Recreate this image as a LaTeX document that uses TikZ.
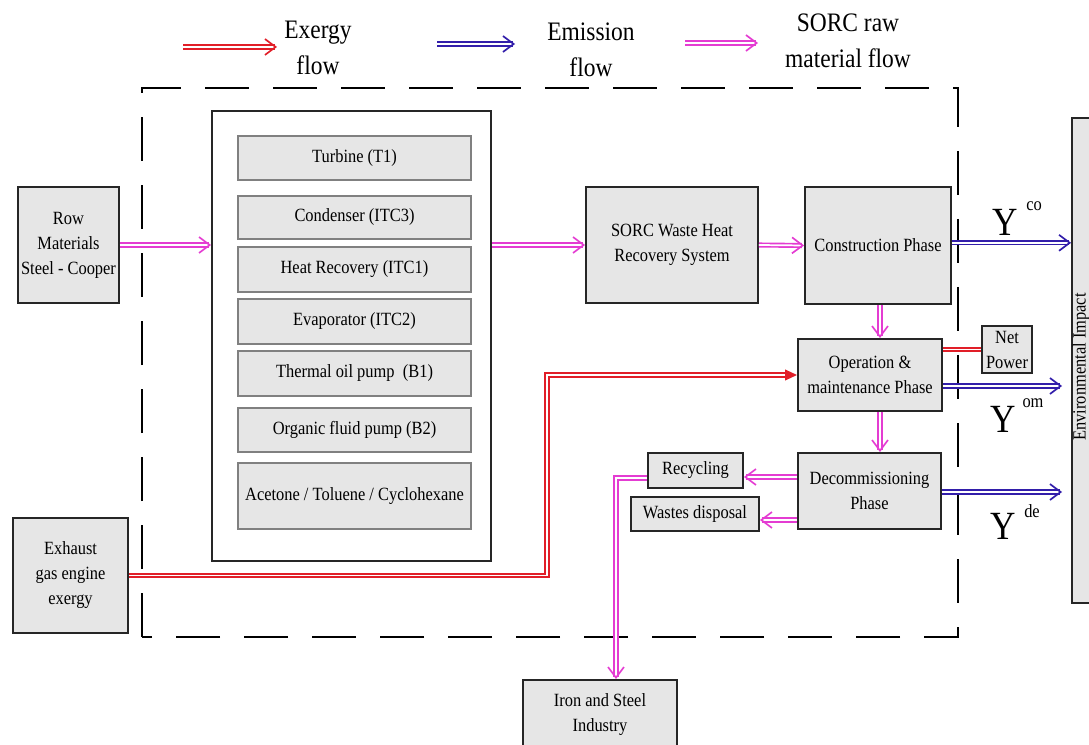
\documentclass[tikz,border=0pt]{standalone}
\usepackage{fontspec}
\setmainfont{Liberation Serif}[FakeStretch=0.88]
\usetikzlibrary{arrows.meta}
\definecolor{exred}{RGB}{225,30,40}
\definecolor{emblue}{RGB}{50,30,170}
\definecolor{rawmag}{RGB}{228,60,210}
\definecolor{boxfill}{RGB}{230,230,230}
\tikzset{
  mainbox/.style={draw=black!85, line width=1.4pt, fill=boxfill, align=center, inner sep=1pt,
                  font=\fontsize{14}{18.75}\selectfont},
  compbox/.style={draw=black!50, line width=0.8pt, fill=boxfill, align=center,
                  minimum width=174.75pt, font=\fontsize{14}{18.75}\selectfont},
  flowline/.style={draw=#1, double=white, double distance=1.3pt, line width=1.25pt},
  flowarrow/.style={flowline=#1, -{Straight Barb[length=8pt,width=12pt,line width=1.25pt]}},
  legtext/.style={align=center, font=\fontsize{20}{27}\selectfont},
  ybig/.style={font=\fontsize{30}{32}\selectfont, inner sep=0pt},
  ysup/.style={font=\fontsize{14}{16}\selectfont, inner sep=0pt},
}
\begin{document}
\begin{tikzpicture}[x=0.75pt,y=-0.75pt]
\useasboundingbox (0,0) rectangle (1089,745);

% dashed boundary
\draw[line width=2.2pt, dash pattern=on 33pt off 18pt] (142,637) -- (142,88) -- (958,88) -- (958,637) -- cycle;

% legend
\coordinate (l1a) at (183,47); \coordinate (l1b) at (277,47);
\coordinate (l2a) at (437,44); \coordinate (l2b) at (515,44);
\coordinate (l3a) at (685,43); \coordinate (l3b) at (758,43);
\draw[flowarrow=exred] (l1a) -- (l1b);
\draw[flowarrow=emblue] (l2a) -- (l2b);
\draw[flowarrow=rawmag] (l3a) -- (l3b);
\node[legtext] (lt1) at (318,48) {Exergy\\flow};
\node[legtext] (lt2) at (591,50) {Emission\\flow};
\node[legtext] (lt3) at (848,41) {SORC raw\\material flow};

% left inputs
\node[mainbox, minimum width=75.75pt, minimum height=87pt] (row) at (68.5,245) {Row\\Materials\\Steel - Cooper};
\node[mainbox, minimum width=86.25pt, minimum height=86.25pt] (exh) at (70.5,575.5) {Exhaust\\gas engine\\exergy};

% inner system box
\node[draw=black!85, line width=1.4pt, fill=white, minimum width=209.25pt, minimum height=337.5pt] (inner) at (351.5,336) {};
\node[compbox, minimum height=33pt] (turb) at (354.5,158) {Turbine (T1)};
\node[compbox, minimum height=32.25pt] (cond) at (354.5,217.5) {Condenser (ITC3)};
\node[compbox, minimum height=33.75pt] (heat) at (354.5,269.5) {Heat Recovery (ITC1)};
\node[compbox, minimum height=33.75pt] (evap) at (354.5,321.5) {Evaporator (ITC2)};
\node[compbox, minimum height=33.75pt] (therm) at (354.5,373.5) {Thermal oil pump~~(B1)};
\node[compbox, minimum height=33pt] (org) at (354.5,430) {Organic fluid pump (B2)};
\node[compbox, minimum height=49.5pt] (acet) at (354.5,496) {Acetone / Toluene / Cyclohexane};

% right side boxes
\node[mainbox, minimum width=129pt, minimum height=87pt] (sorc) at (672,245) {SORC Waste Heat\\Recovery System};
\node[mainbox, minimum width=109.5pt, minimum height=87.75pt] (cons) at (878,245.5) {Construction Phase};
\node[mainbox, minimum width=108pt, minimum height=54pt] (op) at (870,375) {Operation \&\\maintenance Phase};
\node[mainbox, minimum width=37.5pt, minimum height=35.25pt, inner sep=0pt] (net) at (1007,349.5) {Net\\Power};
\node[mainbox, minimum width=107.25pt, minimum height=57pt] (dec) at (869.5,491) {Decommissioning\\Phase};
\node[mainbox, minimum width=71.25pt, minimum height=26.25pt] (rec) at (695.5,470.5) {Recycling};
\node[mainbox, minimum width=96pt, minimum height=25.5pt] (waste) at (695,514) {Wastes disposal};
\node[mainbox, minimum width=115.5pt, minimum height=52.5pt] (iron) at (600,715) {Iron and Steel\\Industry};
\node[mainbox, minimum width=21pt, minimum height=363.75pt] (env) at (1086,360.5) {};
\node[rotate=90, font=\fontsize{14}{16}\selectfont] (envt) at (1081,367) {Environmental Impact};

% Y labels
\node[ybig] (yco) at (1005,222) {Y};
\node[ysup] (ycos) at (1034,206) {co};
\node[ybig] (yom) at (1003,419) {Y};
\node[ysup] (yoms) at (1033,403) {om};
\node[ybig] (yde) at (1003,526) {Y};
\node[ysup] (ydes) at (1032,511) {de};

% raw material flows
\draw[flowarrow=rawmag] (row.east) -- (row.east -| inner.west);
\draw[flowarrow=rawmag] (sorc.west -| inner.east) -- (sorc.west);
\draw[flowarrow=rawmag] (sorc.east) -- (cons.west);
\draw[flowarrow=rawmag] ([xshift=1.5pt]cons.south) -- ([xshift=1.5pt]cons.south |- op.north);
\draw[flowarrow=rawmag] ([xshift=7.5pt]op.south) -- ([xshift=7.5pt]op.south |- dec.north);
\draw[flowarrow=rawmag] ([yshift=10.5pt]dec.west) -- ([yshift=10.5pt]dec.west -| rec.east);
\draw[flowarrow=rawmag] ([yshift=-21.75pt]dec.west) -- ([yshift=-21.75pt]dec.west -| waste.east);
\draw[flowarrow=rawmag] ([yshift=-5.6pt]rec.west) -| ([xshift=12pt]iron.north);

% emission flows
\coordinate (ecoe) at ([yshift=2pt]cons.east -| env.west);
\coordinate (eome) at (1062,386);
\coordinate (edee) at (1062,492);
\draw[flowarrow=emblue] ([yshift=2pt]cons.east) -- (ecoe);
\draw[flowarrow=emblue] ([yshift=-8.25pt]op.east) -- (eome);
\draw[flowarrow=emblue] (dec.east |- edee) -- (edee);

% exergy flows
\coordinate (redx) at (547,480);
\draw[flowline=exred, -{Triangle[length=9pt,width=8pt]}] (exh.east) -| (redx) |- (op.west);
\draw[flowline=exred] (op.east |- net.west) -- (net.west);
\end{tikzpicture}
\end{document}
